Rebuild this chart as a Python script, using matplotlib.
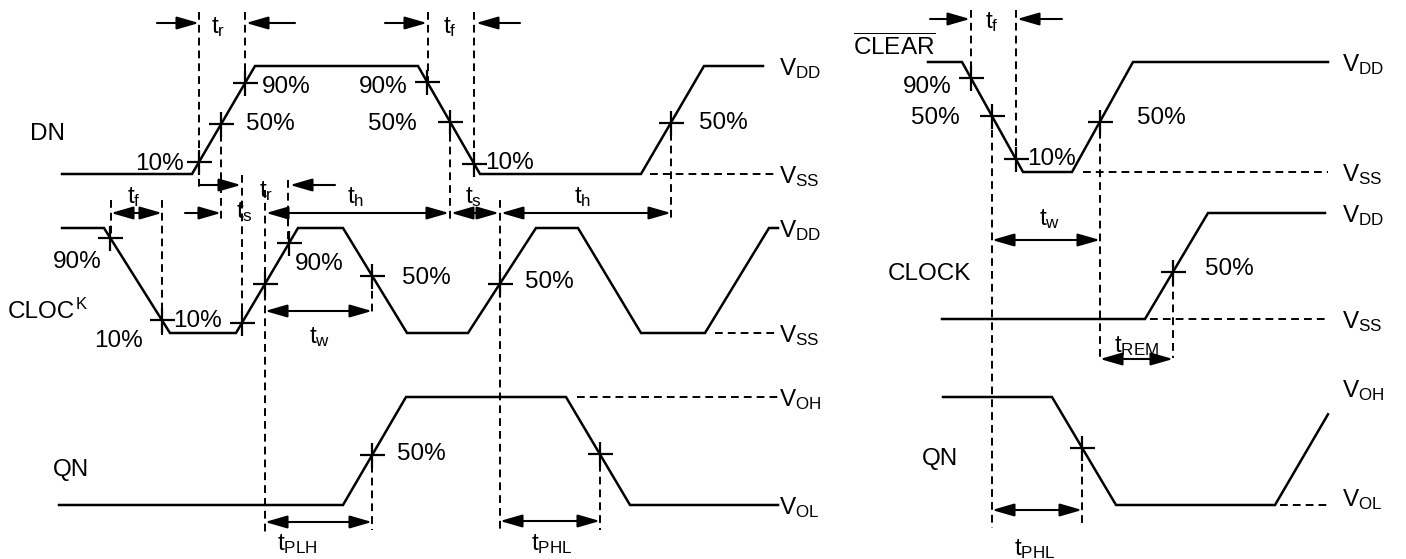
import numpy as np
import matplotlib
matplotlib.use('Agg')
import matplotlib.pyplot as plt

plt.rcParams['font.family'] = ['Liberation Sans', 'DejaVu Sans']
plt.rcParams['mathtext.fontset'] = 'custom'
plt.rcParams['mathtext.rm'] = 'Liberation Sans'
plt.rcParams['mathtext.it'] = 'Liberation Sans'

W, H = 1406, 559

# --- waveforms: breakpoints (x) and logic level (0 = low rail, 1 = high rail)
dn_x = [62, 192, 255, 418, 480, 641, 704, 763]
dn_lv = [0, 0, 1, 1, 0, 0, 1, 1]
clk_x = [62, 104, 170, 236, 298, 343, 407, 468, 536, 578, 641, 705, 769, 778]
clk_lv = [1, 1, 0, 0, 1, 1, 0, 0, 1, 1, 0, 0, 1, 1]
qn_x = [59, 343, 406, 566, 630, 778]
qn_lv = [0, 0, 1, 1, 0, 0]
clr_x = [928, 962, 1023, 1072, 1133, 1328]
clr_lv = [1, 1, 0, 0, 1, 1]
clk2_x = [942, 1145, 1208, 1325]
clk2_lv = [0, 0, 1, 1]
qn2_x = [943, 1052, 1116, 1275, 1328]
qn2_lv = [1, 1, 0, 0, 0.84]

# rail levels (high, low) for each trace
rails = {'dn': (66, 174), 'clk': (228, 333), 'qn': (397, 505),
         'clr': (62, 172), 'clk2': (213, 319), 'qn2': (397, 505)}
waves = {'dn': (dn_x, dn_lv), 'clk': (clk_x, clk_lv), 'qn': (qn_x, qn_lv),
         'clr': (clr_x, clr_lv), 'clk2': (clk2_x, clk2_lv), 'qn2': (qn2_x, qn2_lv)}

# threshold crossings marked with "+"
marks = {'dn': [199, 221, 245, 427, 450, 474, 671],
         'clk': [110, 162, 242, 265, 289, 372, 500],
         'qn': [372, 600],
         'clr': [971, 992, 1016, 1100],
         'clk2': [1173],
         'qn2': [1082]}

# dashed reference lines: vertical (x, y0, y1) and rail continuations (x0, x1, y)
vguides = [(199, 12, 190), (245, 12, 82), (221, 121, 220), (428, 12, 82),
           (474, 12, 160), (450, 121, 220), (671, 120, 218), (242, 175, 330),
           (288, 180, 242), (111, 200, 238), (162, 200, 335), (265, 190, 533),
           (500, 200, 533), (372, 278, 312), (372, 452, 530), (600, 451, 530),
           (971, 10, 80), (1016, 10, 155), (992, 117, 528), (1100, 118, 358),
           (1173, 266, 358), (1082, 451, 527)]
hguides = [(650, 777, 174), (715, 778, 333), (577, 778, 397),
           (1083, 1328, 172), (1150, 1325, 319), (1280, 1328, 505)]

# timing arrows: (from x, to x, y, style)
arrows = [(157, 199, 23, '-|>'), (295, 246, 23, '-|>'), (385, 427, 23, '-|>'),
          (520, 476, 23, '-|>'), (200, 241, 185, '-|>'), (335, 290, 185, '-|>'),
          (111, 162, 213, '<|-|>'), (185, 221, 213, '-|>'), (266, 449, 213, '<|-|>'),
          (451, 499, 213, '<|-|>'), (501, 671, 213, '<|-|>'), (265, 372, 311, '<|-|>'),
          (265, 372, 522, '<|-|>'), (500, 600, 521, '<|-|>'),
          (930, 970, 19, '-|>'), (1062, 1017, 19, '-|>'), (992, 1100, 240, '<|-|>'),
          (1100, 1173, 359, '<|-|>'), (992, 1082, 510, '<|-|>')]

# text labels: (x, baseline y, text, ha)
labels = [('DN', 30, 140, 'left'),
          ('10%', 184, 170, 'right'), ('50%', 246, 130, 'left'), ('90%', 262, 93, 'left'),
          ('90%', 408, 93, 'right'), ('50%', 417, 130, 'right'), ('10%', 485, 169, 'left'),
          ('50%', 699, 129, 'left'),
          ('CLOC', 8, 318, 'left'),
          ('90%', 102, 268, 'right'), ('10%', 143, 347, 'right'), ('10%', 173, 327, 'left'),
          ('90%', 295, 270, 'left'), ('50%', 402, 284, 'left'), ('50%', 525, 288, 'left'),
          ('QN', 53, 476, 'left'), ('50%', 397, 460, 'left'),
          (r'$\overline{\mathrm{CLEAR}}$', 853, 55, 'left'),
          ('90%', 952, 93, 'right'), ('50%', 960, 124, 'right'), ('10%', 1027, 165, 'left'),
          ('50%', 1137, 124, 'left'), ('CLOCK', 888, 280, 'left'), ('50%', 1205, 275, 'left'),
          ('QN', 922, 465, 'left')]

# timing parameter names: (x centre, baseline y, name)
tnames = [(218, 33, 'r'), (450, 33, 'f'), (266, 197, 'r'), (134, 203, 'f'),
          (244, 218, 's'), (356, 203, 'h'), (473, 203, 's'), (583, 203, 'h'),
          (320, 343, 'w'), (297, 550, 'PLH'), (552, 550, 'PHL'),
          (992, 28, 'f'), (1050, 225, 'w'), (1137, 352, 'REM'), (1035, 555, 'PHL')]

# supply level names: (x, baseline y, subscript)
vnames = [(779, 75, 'DD'), (779, 183, 'SS'), (779, 237, 'DD'), (779, 342, 'SS'),
          (779, 406, 'OH'), (779, 514, 'OL'),
          (1342, 71, 'DD'), (1342, 181, 'SS'), (1342, 222, 'DD'), (1342, 328, 'SS'),
          (1342, 397, 'OH'), (1342, 506, 'OL')]

fig = plt.figure(figsize=(W / 100, H / 100), dpi=100)
ax = fig.add_axes([0, 0, 1, 1])
ax.set_xlim(0, W)
ax.set_ylim(H, 0)
ax.axis('off')

fs = 17.5
dash = (0, (4, 2.6))

for key, (xs, lv) in waves.items():
    hi, lo = rails[key]
    ys = [lo - v * (lo - hi) for v in lv]
    ax.plot(xs, ys, color='black', lw=1.8, solid_joinstyle='miter')
    mx = marks[key]
    my = np.interp(mx, xs, ys)
    ax.plot(mx, my, ls='none', marker='+', ms=18, mew=1.6, color='black')

for x, y0, y1 in vguides:
    ax.plot([x, x], [y0, y1], color='black', lw=1.4, ls=dash)
for x0, x1, y in hguides:
    ax.plot([x0, x1], [y, y], color='black', lw=1.4, ls=dash)

for x0, x1, y, st in arrows:
    ax.annotate('', xy=(x1, y), xytext=(x0, y),
                arrowprops=dict(arrowstyle=st + ',head_length=0.9,head_width=0.26',
                                color='black', lw=1.5, shrinkA=0, shrinkB=0,
                                mutation_scale=15))

for text, x, y, ha in labels:
    ax.text(x, y, text, ha=ha, va='baseline', fontsize=fs)
ax.text(76, 309, 'K', ha='left', va='baseline', fontsize=12)

for x, y, sub in tnames:
    ax.text(x, y, r'$\mathrm{t_{%s}}$' % sub, ha='center', va='baseline', fontsize=fs)

for x, y, sub in vnames:
    ax.text(x, y, r'$\mathrm{V_{%s}}$' % sub, ha='left', va='baseline', fontsize=fs)

fig.savefig('out.png', dpi=100)
